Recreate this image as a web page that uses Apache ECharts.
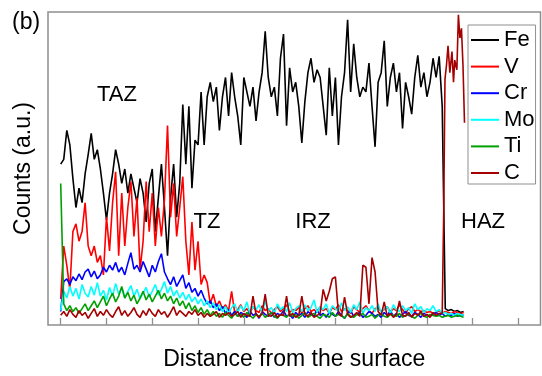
<!DOCTYPE html>
<html>
<head>
<meta charset="utf-8">
<script src="https://cdn.jsdelivr.net/npm/echarts@6/dist/echarts.min.js"></script>
<style>
  html, body { margin: 0; padding: 0; background: #fff; }
  #chart { width: 542px; height: 376px; }
</style>
</head>
<body>
<div id="chart"></div>
<script>
// line-scan counts, one value per sample step along the distance axis
const fe = [167,172,202,187,152,122,142,127,157,177,199,172,182,162,137,109,137,157,182,167,147,162,137,157,142,127,152,137,107,147,162,97,132,167,122,72,132,167,112,147,
  229,167,227,142,192,187,242,187,237,252,232,247,202,237,257,217,262,237,217,187,257,242,227,247,212,242,262,305,257,237,247,217,277,302,207,267,242,252,227,189,
  232,262,277,252,265,257,227,197,267,217,257,187,237,262,317,242,292,257,237,247,242,272,227,185,252,262,295,227,257,272,242,262,204,252,237,219,257,280,247,262,237,252,277,257,279,227,
  17,15,16,14,15,13,14];

const v = [27,82,62,37,97,105,87,97,127,82,72,82,65,72,52,112,77,127,159,72,137,82,122,149,92,132,57,87,149,97,137,82,122,92,130,207,112,147,92,122,
  154,87,52,107,57,87,42,52,44,22,32,19,25,17,21,15,35,13,16,21,14,17,12,19,15,13,20,15,17,12,16,19,14,17,21,13,16,15,18,12,
  17,20,14,16,13,19,15,17,12,18,16,21,14,17,15,12,19,16,13,17,20,15,12,17,18,14,16,19,13,17,15,21,16,12,17,19,14,16,14,15,13,14,12,13,15,12,14,13,12,14,13,12,13];

const cr = [14,45,48,42,50,46,53,47,55,58,50,56,48,52,60,55,62,57,65,55,60,52,64,75,58,62,55,66,58,50,62,55,66,74,55,48,42,50,40,46,
  52,38,44,34,38,30,36,28,22,25,18,22,15,19,12,16,10,14,9,13,11,8,15,10,12,7,14,11,9,13,8,12,10,15,9,11,7,13,10,12,
  8,14,11,9,16,10,12,8,13,11,9,14,10,7,12,15,9,11,13,8,10,14,12,9,11,8,13,10,15,9,12,8,11,14,10,9,13,11,8,12,10,9,11,13,10,12,9,11,10,12,9,11,10];

const mo = [15,35,28,40,30,38,27,42,33,29,40,31,44,30,36,26,39,30,43,32,38,28,35,41,30,37,27,33,39,29,35,42,31,37,45,33,40,30,36,28,
  34,26,32,24,29,22,27,20,25,18,23,16,21,14,19,12,18,22,13,20,15,24,12,19,16,21,13,25,15,18,12,22,16,19,14,23,13,17,20,14,
  21,15,18,26,13,19,16,22,12,20,17,14,23,15,19,13,21,16,24,12,18,15,20,14,22,13,17,19,12,21,16,14,20,15,18,12,22,16,19,13,17,15,20,14,16,12,13,11,12,10,12,11,10];

const ti = [147,22,15,20,14,18,12,17,22,15,20,25,18,24,30,20,27,33,24,30,40,28,34,25,31,22,28,35,26,32,24,30,36,27,33,25,30,22,28,20,
  25,17,23,15,20,13,18,11,16,10,14,9,12,8,13,10,7,12,9,11,8,13,10,7,11,9,12,8,10,13,9,7,11,10,8,12,9,11,7,10,
  13,8,10,12,9,7,11,10,8,13,9,11,10,7,12,9,8,11,10,12,8,9,11,7,10,12,9,8,11,10,9,12,8,10,11,9,7,10,12,9,8,11,10,9,10,8,9,10,8,9,10,9,8];

const c = [10,14,9,16,11,8,15,10,13,7,12,17,9,14,10,16,11,8,14,19,10,15,9,13,18,11,8,15,10,17,12,9,16,11,14,8,13,19,10,15,
  12,9,14,11,16,10,13,8,12,9,11,14,8,12,10,13,9,11,14,8,12,10,9,30,11,8,12,32,10,9,13,8,11,10,30,9,12,8,10,30,
  11,9,13,8,10,12,37,25,35,48,50,12,9,29,11,8,10,13,9,62,60,22,70,55,14,10,24,9,12,8,11,25,10,9,13,8,12,10,14,9,11,8,13,10,12,12];

// C rises sharply inside the HAZ, sampled finer there
const cTailDist = [125.5,125.9,126.4,126.9,127.5,128.2,128.7,129.1,129.8,130.3,130.8,131.3,131.8,132.3];
const cTailVals = [120,255,270,290,262,284,252,275,265,322,298,308,270,210];

const names = ["Fe", "V", "Cr", "Mo", "Ti", "C"];
const colors = ["#000000", "#ff0000", "#0000ff", "#00ffff", "#00a000", "#a50000"];
const xTicks = [0, 15, 30, 45, 60, 75, 90, 105, 120, 135, 150];
const zones = [
  { text: "TAZ", x: 117, y: 95 },
  { text: "TZ", x: 207, y: 222 },
  { text: "IRZ", x: 313, y: 222 },
  { text: "HAZ", x: 483, y: 222 },
];

const FONT = "'Liberation Sans', Arial, sans-serif";
const toPairs = (arr) => arr.map((y, i) => [i, y]);

const cData = toPairs(c).concat(cTailDist.map((d, k) => [d, cTailVals[k]]));
const seriesData = [toPairs(fe), toPairs(v), toPairs(cr), toPairs(mo), toPairs(ti), cData];

const chart = echarts.init(document.getElementById("chart"), null, { renderer: "canvas" });

const option = {
  animation: false,
  grid: {
    left: 48, right: 1.5, top: 12, bottom: 39,
    show: true, borderColor: "#8f8f8f", borderWidth: 1.5,
  },
  xAxis: {
    type: "value",
    min: -4.16, max: 157.2,
    name: "Distance from the surface",
    nameLocation: "middle",
    nameGap: 23,
    nameTextStyle: { fontFamily: FONT, fontSize: 23, color: "#000" },
    axisLine: { show: false },
    axisTick: {
      show: true, inside: true, length: 7,
      customValues: xTicks,
      lineStyle: { color: "#8f8f8f", width: 1.3 },
    },
    axisLabel: { show: false },
    splitLine: { show: false },
  },
  yAxis: {
    type: "value",
    min: 0, max: 325,
    name: "Counts (a.u.)",
    nameLocation: "middle",
    nameGap: 13,
    nameTextStyle: { fontFamily: FONT, fontSize: 23, color: "#000" },
    axisLine: { show: false },
    axisTick: { show: false },
    axisLabel: { show: false },
    splitLine: { show: false },
  },
  legend: {
    data: names,
    orient: "vertical",
    left: 468, top: 25,
    padding: [4, 1, 0, 3],
    itemGap: 4.6,
    itemWidth: 28, itemHeight: 2,
    icon: "rect",
    borderColor: "#8f8f8f", borderWidth: 1,
    textStyle: { fontFamily: FONT, fontSize: 22, color: "#000", lineHeight: 22 },
  },
  graphic: [
    {
      type: "text", left: 12, top: 11,
      style: { text: "(b)", font: `23px ${FONT}`, fill: "#000" },
    },
    ...zones.map((z) => ({
      type: "text",
      x: z.x, y: z.y,
      style: {
        text: z.text, font: `22px ${FONT}`, fill: "#000",
        textAlign: "center", textVerticalAlign: "middle",
      },
    })),
  ],
  series: names.map((n, k) => ({
    name: n,
    type: "line",
    data: seriesData[k],
    showSymbol: false,
    color: colors[k],
    lineStyle: { width: 1.6, color: colors[k] },
  })),
};

chart.setOption(option);
</script>
</body>
</html>
